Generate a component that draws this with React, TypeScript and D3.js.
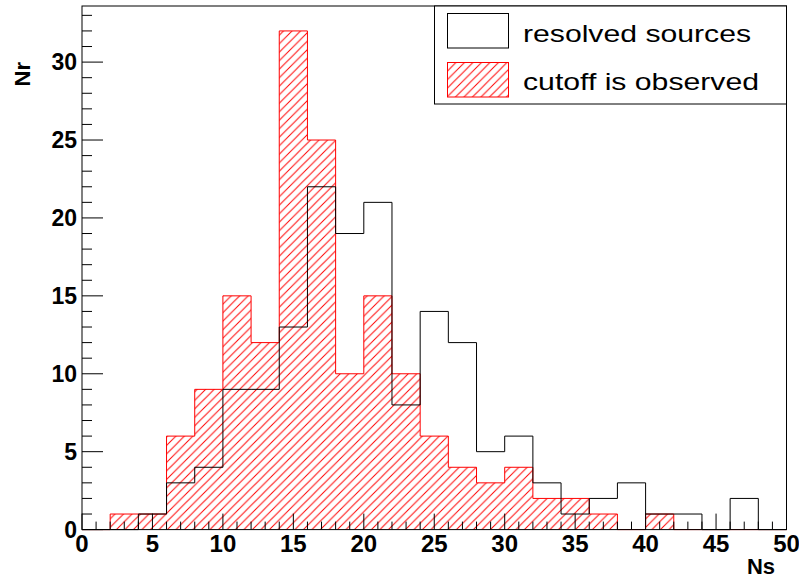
import React, { useEffect, useRef } from 'react';
import * as d3 from 'd3';

// bin lower edges (bin width 2)
const binStarts = [0, 2, 4, 6, 8, 10, 12, 14, 16, 18, 20, 22, 24, 26, 28, 30, 32, 34, 36, 38, 40, 42, 44, 46, 48];
const binWidth = 2;
const resolvedSources = [0, 0, 1, 3, 4, 9, 9, 13, 22, 19, 21, 8, 14, 12, 5, 6, 3, 1, 2, 3, 1, 1, 0, 2, 0];
const cutoffObserved = [0, 1, 1, 6, 9, 15, 12, 32, 25, 10, 15, 10, 6, 4, 3, 4, 2, 2, 1, 0, 1, 0, 0, 0, 0];
const xTicks = [0, 5, 10, 15, 20, 25, 30, 35, 40, 45, 50];
const yTicks = [0, 5, 10, 15, 20, 25, 30];
const legendLabels = ['resolved sources', 'cutoff is observed'];

const App = () => {
    const ref = useRef<SVGSVGElement | null>(null);

    useEffect(() => {
        const svgWidth = 799, svgHeight = 579;
        const frame = { left: 82, right: 786.5, top: 6, bottom: 529.6 };
        const svg = d3.select(ref.current);
        svg.selectAll('*').remove();

        const x = d3.scaleLinear().domain([0, 50]).range([frame.left, frame.right]);
        const y = d3.scaleLinear().domain([0, 33.6]).range([frame.bottom, frame.top]);

        const defs = svg.append('defs');
        const pat = defs.append('pattern')
            .attr('id', 'hatch')
            .attr('patternUnits', 'userSpaceOnUse')
            .attr('width', 8.5)
            .attr('height', 8.5);
        pat.append('path')
            .attr('d', 'M-1,1 L1,-1 M0,8.5 L8.5,0 M7.5,9.5 L9.5,7.5')
            .attr('stroke', '#ff0000')
            .attr('stroke-width', 1);

        svg.append('rect')
            .attr('width', svgWidth).attr('height', svgHeight).attr('fill', '#fff');

        // step outline for a histogram
        const stepPath = (values: number[]) => {
            const pts: [number, number][] = [[x(binStarts[0]), y(0)]];
            values.forEach((v, i) => {
                pts.push([x(binStarts[i]), y(v)]);
                pts.push([x(binStarts[i] + binWidth), y(v)]);
            });
            pts.push([x(binStarts[binStarts.length - 1] + binWidth), y(0)]);
            return d3.line()(pts);
        };

        svg.append('path')
            .attr('d', stepPath(cutoffObserved))
            .attr('fill', 'url(#hatch)')
            .attr('stroke', '#ff0000')
            .attr('stroke-width', 1);

        svg.append('path')
            .attr('d', stepPath(resolvedSources))
            .attr('fill', 'none')
            .attr('stroke', '#000')
            .attr('stroke-width', 1);

        // ticks (drawn inside the frame, ROOT style)
        const xMinor = d3.range(0, 51, 1);
        svg.append('g').selectAll('line')
            .data(xMinor)
            .enter().append('line')
            .attr('x1', d => x(d)).attr('x2', d => x(d))
            .attr('y1', frame.bottom)
            .attr('y2', d => frame.bottom - (d % 5 === 0 ? 16 : 8))
            .attr('stroke', '#000');

        const yMinor = d3.range(0, 34, 1);
        svg.append('g').selectAll('line')
            .data(yMinor)
            .enter().append('line')
            .attr('y1', d => y(d)).attr('y2', d => y(d))
            .attr('x1', frame.left)
            .attr('x2', d => frame.left + (d % 5 === 0 ? 21 : 10))
            .attr('stroke', '#000');

        svg.append('g').selectAll('text')
            .data(xTicks)
            .enter().append('text')
            .attr('x', d => x(d))
            .attr('y', 552)
            .attr('text-anchor', 'middle')
            .style('font-family', 'Liberation Sans, Arial, sans-serif')
            .style('font-weight', 'bold')
            .style('font-size', '24px')
            .text(d => d);

        svg.append('g').selectAll('text')
            .data(yTicks)
            .enter().append('text')
            .attr('x', 77)
            .attr('y', d => y(d) + 8)
            .attr('text-anchor', 'end')
            .style('font-family', 'Liberation Sans, Arial, sans-serif')
            .style('font-weight', 'bold')
            .style('font-size', '23px')
            .text(d => d);

        // axis titles
        svg.append('text')
            .attr('x', 775)
            .attr('y', 574)
            .attr('text-anchor', 'end')
            .style('font-family', 'Liberation Sans, Arial, sans-serif')
            .style('font-weight', 'bold')
            .style('font-size', '22px')
            .text('Ns');

        svg.append('text')
            .attr('transform', 'translate(30,62) rotate(-90)')
            .attr('text-anchor', 'end')
            .style('font-family', 'Liberation Sans, Arial, sans-serif')
            .style('font-weight', 'bold')
            .style('font-size', '22px')
            .text('Nr');

        // frame
        svg.append('rect')
            .attr('x', frame.left).attr('y', frame.top)
            .attr('width', frame.right - frame.left)
            .attr('height', frame.bottom - frame.top)
            .attr('fill', 'none')
            .attr('stroke', '#000');

        // legend
        const legend = svg.append('g');
        legend.append('rect')
            .attr('x', 434.5).attr('y', frame.top)
            .attr('width', frame.right - 434.5).attr('height', 104 - frame.top)
            .attr('fill', '#fff')
            .attr('stroke', '#000');
        legend.append('rect')
            .attr('x', 447.5).attr('y', 13.5).attr('width', 61).attr('height', 34.5)
            .attr('fill', 'none').attr('stroke', '#000');
        legend.append('rect')
            .attr('x', 447.5).attr('y', 62.5).attr('width', 61).attr('height', 34.5)
            .attr('fill', 'url(#hatch)').attr('stroke', '#ff0000');
        legend.selectAll('text.lbl')
            .data(legendLabels)
            .enter().append('text')
            .attr('class', 'lbl')
            .attr('x', 523)
            .attr('y', (d, i) => 41.5 + i * 48.5)
            .attr('textLength', (d, i) => (i === 0 ? 228 : 236))
            .attr('lengthAdjust', 'spacingAndGlyphs')
            .style('font-family', 'Liberation Sans, Arial, sans-serif')
            .style('font-size', '24px')
            .text(d => d);
    }, []);

    return (
        <svg ref={ref} width={799} height={579}
            style={{ position: 'absolute', left: 0, top: 0, display: 'block' }} />
    );
};

export default App;
